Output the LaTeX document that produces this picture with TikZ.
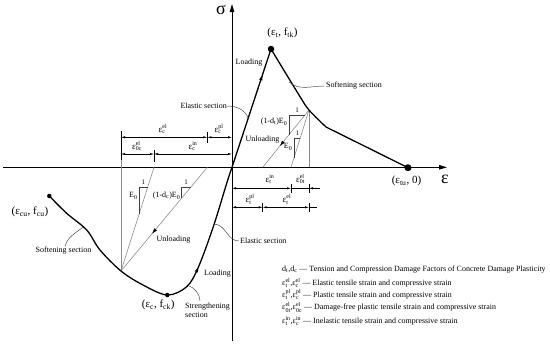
\documentclass[tikz,border=0pt]{standalone}
\usepackage{amsmath}
\usepackage{fontspec}
\setmainfont{Liberation Serif}
\usetikzlibrary{arrows.meta,decorations.markings}
\newcommand\Eps[2]{\ensuremath{\text{ε}^{\text{#1}}_{\text{#2}}}}
\begin{document}
\begin{tikzpicture}[x=1bp,y=-1bp,
  lbl/.style={font=\fontsize{8}{9}\selectfont, inner sep=0pt},
  coordlbl/.style={font=\fontsize{11}{12}\selectfont, inner sep=0pt},
  dimlbl/.style={font=\fontsize{9}{10}\selectfont, inner sep=0pt},
  onelbl/.style={font=\fontsize{7}{8}\selectfont, inner sep=0pt},
  leglbl/.style={font=\fontsize{8}{9}\selectfont, inner sep=0pt, anchor=west},
  axislbl/.style={font=\fontsize{18}{18}\selectfont, inner sep=0pt},
  curve/.style={line width=1.3bp, line join=round, line cap=round},
  axisline/.style={line width=0.9bp, -{Triangle[length=8bp,width=4.5bp]}},
  gline/.style={line width=0.6bp, black!45},
  tri/.style={line width=0.5bp, black!75},
  dimline/.style={line width=0.45bp},
  dimarr/.style={dimline, {Latex[length=4bp,width=2.2bp]}-{Latex[length=4bp,width=2.2bp]}},
  endarr/.style={dimline, -{Latex[length=4bp,width=2.2bp]}},
  leader/.style={line width=0.45bp, black!75},
  pdot/.style={circle, fill=black, inner sep=0pt, minimum size=#1},
  midarrow/.style 2 args={postaction={decorate,decoration={markings,mark=at position #1 with {\arrow{Latex[length=#2,width=3.6bp,color=black]}}}}}
]
\useasboundingbox (0,0) rectangle (550,343);

% axes
\coordinate (xs) at (3,167.3);
\coordinate (xe) at (447,167.3);
\coordinate (ys) at (232,341);
\coordinate (ye) at (232,4);
\coordinate (O) at (232,167.3);
\draw[axisline] (xs) -- (xe);
\draw[axisline] (ys) -- (ye);
\node[axislbl] (sig) at (221,10) {σ};
\node[axislbl] (epsx) at (445,179) {ε};

% key points
\node[pdot=6.5bp] (T) at (271,49) {};
\node[pdot=7bp] (Etu) at (408,167.7) {};
\node[pdot=4.5bp] (A) at (49.3,196) {};
\node[pdot=4.5bp] (M) at (167.3,295) {};
\coordinate (U) at (309,110);
\coordinate (K) at (326,127);
\coordinate (P) at (121,271);
\coordinate (t0) at (291,167.3);
\coordinate (t1) at (262.7,167.3);
\coordinate (c0) at (154,167.3);
\coordinate (c1) at (207.3,167.3);

% unloading lines
\draw[gline] (U) -- (U |- O);
\draw[gline] (U) -- (t0);
\draw[gline, midarrow={0.63}{5.5bp}] (U) -- (t1);
\draw[gline] (P) -- (121,131);
\draw[gline] (P) -- (c0);
\draw[gline, midarrow={0.64}{5.5bp}] (c1) -- (P);

% main curves
\draw[curve] plot[smooth, tension=0.55] coordinates {(A.center) (66.7,213.3) (86.7,230) (100,250) (P) (143,285) (M.center) (186.7,286.7) (198.3,267.3) (213.3,226.7) (226.7,183.3) (O)};
\draw[curve, midarrow={0.79}{6.5bp}] (O) -- (T.center);
\draw[curve] plot[smooth, tension=0.55] coordinates {(T.center) (299,95) (U) (K)} -- (Etu.center);
\draw[line width=1.3bp, -{Latex[length=6.5bp,width=3.6bp]}] (197.3,269.6) -- (198.9,265.9);

% slope triangles
\draw[tri] (305,115) -- (289,115) -- (289,134.7);
\draw[tri] (300.1,138.3) -- (294,138.3) -- (294,157.8);
\draw[tri] (147.6,187.3) -- (139.3,187.3) -- (139.3,213.5);
\draw[tri] (190.7,187.3) -- (181.7,187.3) -- (181.7,198.1);
\node[onelbl] (one1) at (297,110.5) {1};
\node[onelbl] (one2) at (297.3,133.5) {1};
\node[onelbl] (one3) at (143.3,182) {1};
\node[onelbl] (one4) at (186,182) {1};
\node[lbl, anchor=east] (s1) at (287.5,122) {(1-d\textsubscript{t})E\textsubscript{0}};
\node[lbl, anchor=east] (s2) at (292.5,147) {E\textsubscript{0}};
\node[lbl, anchor=east] (s3) at (137.8,196) {E\textsubscript{0}};
\node[lbl, anchor=east] (s4) at (180.5,196) {(1-d\textsubscript{c})E\textsubscript{0}};

% compression dimensions
\coordinate (cA0) at (121,137.3);
\coordinate (cA1) at (207.3,137.3);
\coordinate (cA2) at (232,137.3);
\draw[dimarr] (cA0) -- (cA1);
\draw[dimarr] (cA1) -- (cA2);
\draw[dimline] (207.3,132) -- (207.3,143);
\draw[dimline] (121,131) -- (121,160);
\coordinate (cB0) at (121,154);
\coordinate (cB1) at (154,154);
\coordinate (cB2) at (232,154);
\draw[dimarr] (cB0) -- (cB1);
\draw[dimarr] (cB1) -- (cB2);
\draw[dimline] (154,149.5) -- (154,162);
\node[dimlbl] (dA1) at (163,129) {\Eps{el}{c}};
\node[dimlbl] (dA2) at (219,129) {\Eps{pl}{c}};
\node[dimlbl] (dB1) at (137,146) {\Eps{el}{0c}};
\node[dimlbl] (dB2) at (193,146) {\Eps{in}{c}};

% tension dimensions
\coordinate (tA0) at (232,188.3);
\coordinate (tA1) at (291,188.3);
\coordinate (tA2) at (309,188.3);
\coordinate (tA3) at (320,188.3);
\draw[dimarr] (tA0) -- (tA1);
\draw[dimline] (tA1) -- (tA2);
\draw[endarr] (tA3) -- (tA2);
\draw[dimline] (291,183.5) -- (291,193);
\draw[dimline] (309,183.5) -- (309,193);
\coordinate (tB0) at (232,207.3);
\coordinate (tB1) at (262.7,207.3);
\coordinate (tB2) at (309,207.3);
\coordinate (tB3) at (317,207.3);
\draw[dimarr] (tB0) -- (tB1);
\draw[dimarr] (tB1) -- (tB2);
\draw[dimline] (tB2) -- (tB3);
\draw[dimline] (262.7,202.5) -- (262.7,212);
\draw[dimline] (309,202.5) -- (309,212);
\node[dimlbl] (dC1) at (270,179) {\Eps{in}{t}};
\node[dimlbl] (dC2) at (300.5,179) {\Eps{el}{0t}};
\node[dimlbl] (dD1) at (250,199.5) {\Eps{pl}{t}};
\node[dimlbl] (dD2) at (287,199.5) {\Eps{el}{t}};

% point labels
\node[coordlbl] (Tl) at (282.5,33) {(ε\textsubscript{t}, f\textsubscript{tk})};
\node[coordlbl] (Etul) at (406.5,181) {(ε\textsubscript{tu}, 0)};
\node[coordlbl] (Al) at (30,212) {(ε\textsubscript{cu}, f\textsubscript{cu})};
\node[coordlbl] (Ml) at (158.3,305) {(ε\textsubscript{c}, f\textsubscript{ck})};

% text labels
\node[lbl] (load1) at (249,63) {Loading};
\node[lbl, anchor=east] (el1) at (227,106) {Elastic section};
\node[lbl, anchor=west] (soft1) at (326,86) {Softening section};
\node[lbl] (unl1) at (262.5,140) {Unloading};
\node[lbl] (unl2) at (173.5,239.5) {Unloading};
\node[lbl] (load2) at (217.5,273.5) {Loading};
\node[lbl, anchor=west] (el2) at (240,241) {Elastic section};
\node[lbl, align=left, anchor=north west] (str) at (185,302.5) {Strengthening\\section};
\node[lbl] (soft2) at (63.5,251) {Softening section};

% leaders
\coordinate (ld1) at (248.3,118);
\draw[leader] (el1.east) to[out=0,in=115] (ld1);
\coordinate (ld2) at (289,82);
\draw[leader] (ld2) to[out=-40,in=180] ([xshift=-1.5bp]soft1.west);
\coordinate (ls3) at (65,246.5);
\coordinate (ld3) at (83,227);
\draw[leader] (ls3) to[out=75,in=-140] (ld3);
\coordinate (ld4) at (214.5,224);
\draw[leader] (ld4) to[out=-5,in=180] ([xshift=-1bp]el2.west);
\coordinate (ld5) at (188,285.5);
\coordinate (ls5) at (200,301);
\draw[leader] (ld5) to[out=-20,in=95] (ls5);

% legend
\node[leglbl] (lg1) at (282,270) {d\textsubscript{t},d\textsubscript{c} — Tension and Compression Damage Factors of Concrete Damage Plasticity};
\node[leglbl] (lg2) at (282,282.7) {\Eps{el}{t},\Eps{el}{c} — Elastic tensile strain and compressive strain};
\node[leglbl] (lg3) at (282,294.7) {\Eps{pl}{t},\Eps{pl}{c} — Plastic tensile strain and compressive strain};
\node[leglbl] (lg4) at (282,307.3) {\Eps{el}{0t},\Eps{el}{0c} — Damage-free plastic tensile strain and compressive strain};
\node[leglbl] (lg5) at (282,321) {\Eps{in}{t},\Eps{in}{c} — Inelastic tensile strain and compressive strain};
\end{tikzpicture}
\end{document}
